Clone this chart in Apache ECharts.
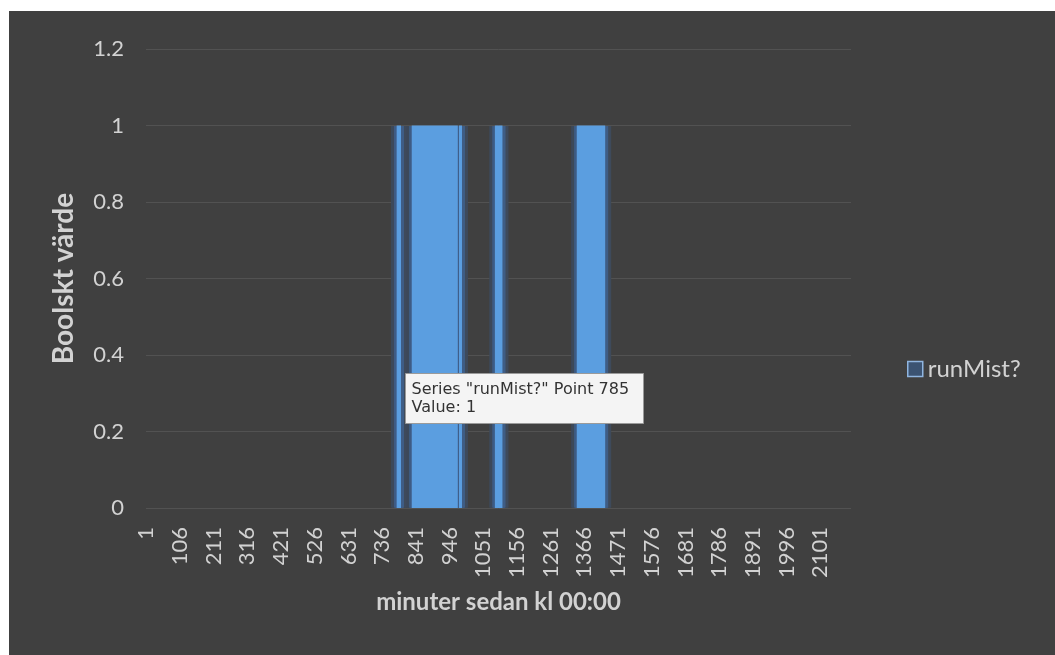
<!DOCTYPE html>
<html>
<head>
<meta charset="utf-8">
<script src="https://cdn.jsdelivr.net/npm/echarts@6/dist/echarts.min.js"></script>
<style>
  html, body { margin: 0; padding: 0; background: #ffffff; }
  #chart { position: absolute; left: 9px; top: 11px; width: 1046px; height: 644px; background: #404040; }
</style>
</head>
<body>
<div id="chart"></div>
<script>
// runMist? state per minute since 00:00 (1 = running)
const seriesName = 'runMist?';
const minuteCount = 2196;
// minute ranges (inclusive) where runMist? was on
const onRuns = [[782, 794], [829, 971], [976, 984], [1088, 1110], [1343, 1430]];
const yTicks = [0, 0.2, 0.4, 0.6, 0.8, 1, 1.2];
const labelEvery = 105;
const tipPoint = 785;

const minutes = [];
const values = [];
for (let m = 1; m <= minuteCount; m++) {
  minutes.push(String(m));
  values.push(onRuns.some(r => m >= r[0] && m <= r[1]) ? 1 : 0);
}
// glow layers only need the "on" minutes; off minutes stay empty
const glowValues = values.map(v => (v ? v : '-'));

const textColor = '#d2d2d2';
const font = 'Lato, "Open Sans", sans-serif';

function glowLayer(name, width, color, z) {
  return {
    name: name,
    type: 'bar',
    data: glowValues,
    barCategoryGap: '0%',
    barGap: '-100%',
    silent: true,
    clip: true,
    z: z,
    itemStyle: { color: color, borderColor: color, borderWidth: width }
  };
}

const chart = echarts.init(document.getElementById('chart'));
chart.setOption({
  animation: false,
  backgroundColor: '#404040',
  grid: { left: 137, right: 204, top: 38, bottom: 147 },
  legend: {
    data: [seriesName],
    orient: 'vertical',
    left: 898,
    top: 346,
    padding: 0,
    icon: 'rect',
    itemWidth: 15,
    itemHeight: 15,
    itemStyle: { color: '#3b5372', borderColor: '#8fb5e0', borderWidth: 1.5, shadowBlur: 0 },
    textStyle: { color: textColor, fontSize: 24, fontFamily: font }
  },
  xAxis: {
    type: 'category',
    data: minutes,
    axisLine: { show: false },
    axisTick: { show: false },
    axisLabel: {
      interval: labelEvery - 1,
      rotate: 90,
      margin: 19,
      color: textColor,
      fontSize: 22,
      fontFamily: font
    },
    name: 'minuter sedan kl 00:00',
    nameLocation: 'middle',
    nameGap: 82,
    nameTextStyle: { color: textColor, fontSize: 24, fontWeight: 'bold', fontFamily: font }
  },
  yAxis: {
    type: 'value',
    min: yTicks[0],
    max: yTicks[yTicks.length - 1],
    interval: yTicks[1] - yTicks[0],
    axisLine: { show: false },
    axisTick: { show: false },
    splitLine: { lineStyle: { color: '#525252', width: 1 } },
    axisLabel: { margin: 22, color: textColor, fontSize: 22, fontFamily: font },
    name: 'Boolskt värde',
    nameLocation: 'middle',
    nameGap: 68,
    nameTextStyle: { color: textColor, fontSize: 28, fontWeight: 'bold', fontFamily: font }
  },
  series: [
    glowLayer('glow outer', 12, '#3e4a5b', 1),
    glowLayer('glow inner', 6, '#3f5d85', 2),
    {
      name: seriesName,
      type: 'bar',
      data: values,
      large: true,
      largeThreshold: 100,
      barCategoryGap: '0%',
      barGap: '-100%',
      z: 3,
      itemStyle: { color: '#5b9ee0' }
    }
  ],
  graphic: [{
    type: 'group',
    left: 396,
    top: 362,
    z: 100,
    children: [{
      type: 'rect',
      z: 100,
      shape: { x: 0, y: 0, width: 238, height: 50 },
      style: { fill: '#f4f4f4', stroke: '#9a9a9a', lineWidth: 1 }
    }, {
      type: 'text',
      z: 101,
      x: 6,
      y: 7,
      style: {
        text: 'Series "' + seriesName + '" Point ' + tipPoint + '\nValue: ' + values[tipPoint - 1],
        font: '16px "DejaVu Sans", sans-serif',
        fill: '#333333',
        lineHeight: 18
      }
    }]
  }]
});
</script>
</body>
</html>
